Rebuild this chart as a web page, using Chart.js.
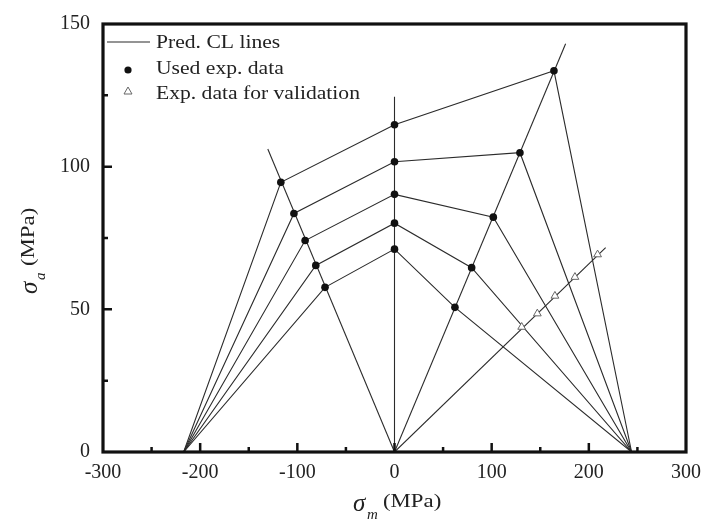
<!DOCTYPE html>
<html>
<head>
<meta charset="utf-8">
<script src="https://cdn.jsdelivr.net/npm/chart.js"></script>
<style>
  html, body { margin: 0; padding: 0; background: #fff; }
  #wrap { width: 707px; height: 523px; }
</style>
</head>
<body>
<div id="wrap"><canvas id="chart"></canvas></div>
<script>
// Constant-life (CL) diagram: sigma_m vs sigma_a, MPa

// foci of the fans on the sigma_m axis
const leftFocus = -217;
const rightFocus = 244;

// used experimental points, one per CL level (top to bottom)
const leftX = [-117, -103.5, -92, -81, -71.5];
const leftY = [94.5, 83.6, 74.1, 65.4, 57.7];
const midX = [0, 0, 0, 0, 0];
const midY = [114.7, 101.7, 90.3, 80.2, 71.1];
const rightX = [164.1, 129.1, 101.7, 79.4, 62.2];
const rightY = [133.6, 104.9, 82.3, 64.6, 50.7];

// validation points
const validX = [130.9, 147, 165.1, 185.7, 209];
const validY = [43.8, 48.5, 54.7, 61.3, 69.2];

// radial lines from the origin (end points)
const rayX = [-130.4, 0, 176.1, 217.3];
const rayY = [106.2, 124.5, 143.1, 71.6];

// axis ticks
const xTicks = [-300, -200, -100, 0, 100, 200, 300];
const yTicks = [0, 50, 100, 150];

const serif = "'Liberation Serif', 'DejaVu Serif', serif";
const lineColor = "#2b2b2b";
const textColor = "#222";
const stretch = 1.2; // the serif face is set a bit wide

function lineSet(points) {
  return {
    type: "scatter",
    data: points,
    showLine: true,
    pointRadius: 0,
    borderColor: lineColor,
    borderWidth: 1.1,
    fill: false,
    order: 2,
  };
}

const datasets = [];

// used exp. data
const usedPts = [];
for (let i = 0; i < leftX.length; i++) {
  usedPts.push({ x: leftX[i], y: leftY[i] });
  usedPts.push({ x: midX[i], y: midY[i] });
  usedPts.push({ x: rightX[i], y: rightY[i] });
}
datasets.push({
  type: "scatter",
  data: usedPts,
  pointStyle: "circle",
  pointRadius: 3.8,
  backgroundColor: "#111",
  borderColor: "#111",
  borderWidth: 0,
  order: 0,
});

// validation data
datasets.push({
  type: "scatter",
  data: validX.map((x, i) => ({ x: x, y: validY[i] })),
  pointStyle: "triangle",
  pointRadius: 4.5,
  backgroundColor: "#fff",
  borderColor: "#666",
  borderWidth: 1,
  order: 0,
});

// rays from the origin
rayX.forEach((x, i) => {
  datasets.push(lineSet([{ x: 0, y: 0 }, { x: x, y: rayY[i] }]));
});

// one polyline per CL level: left focus -> left -> mid -> right -> right focus
for (let i = 0; i < leftX.length; i++) {
  datasets.push(lineSet([
    { x: leftFocus, y: 0 },
    { x: leftX[i], y: leftY[i] },
    { x: midX[i], y: midY[i] },
    { x: rightX[i], y: rightY[i] },
    { x: rightFocus, y: 0 },
  ]));
}

function wideText(ctx, text, x, y) {
  ctx.save();
  ctx.translate(x, y);
  ctx.scale(stretch, 1);
  ctx.fillText(text, 0, 0);
  ctx.restore();
}

// frame, inward ticks, axis titles and legend
const decorations = {
  id: "decorations",
  afterDatasetsDraw(chart) {
    const { ctx, chartArea: a, scales } = chart;
    const sx = scales.x, sy = scales.y;
    ctx.save();

    // ticks
    ctx.strokeStyle = "#111";
    ctx.lineWidth = 2.5;
    ctx.beginPath();
    for (let v = -250; v <= 250; v += 50) {
      const len = v % 100 === 0 ? 9 : 5;
      const px = sx.getPixelForValue(v);
      ctx.moveTo(px, a.bottom);
      ctx.lineTo(px, a.bottom - len);
    }
    for (let v = 25; v <= 125; v += 25) {
      const len = v % 50 === 0 ? 9 : 5;
      const py = sy.getPixelForValue(v);
      ctx.moveTo(a.left, py);
      ctx.lineTo(a.left + len, py);
    }
    ctx.stroke();

    // frame
    ctx.lineWidth = 3.2;
    ctx.strokeRect(a.left, a.top, a.right - a.left, a.bottom - a.top);

    // x title
    ctx.fillStyle = textColor;
    ctx.textBaseline = "alphabetic";
    ctx.textAlign = "left";
    ctx.font = "italic 25px " + serif;
    ctx.fillText("σ", 353, 511);
    ctx.font = "italic 15px " + serif;
    ctx.fillText("m", 367, 519);
    ctx.font = "19px " + serif;
    wideText(ctx, "(MPa)", 383, 507);

    // y title
    ctx.save();
    ctx.translate(37, 294);
    ctx.rotate(-Math.PI / 2);
    ctx.font = "italic 25px " + serif;
    ctx.fillText("σ", 0, 0);
    ctx.font = "italic 15px " + serif;
    ctx.fillText("a", 14, 8);
    ctx.font = "19px " + serif;
    wideText(ctx, "(MPa)", 28, -3);
    ctx.restore();

    // legend
    ctx.font = "18px " + serif;
    ctx.strokeStyle = lineColor;
    ctx.lineWidth = 1.1;
    ctx.beginPath();
    ctx.moveTo(107, 42);
    ctx.lineTo(150, 42);
    ctx.stroke();
    wideText(ctx, "Pred. CL lines", 156, 48);

    ctx.fillStyle = "#111";
    ctx.beginPath();
    ctx.arc(128, 70, 3.6, 0, Math.PI * 2);
    ctx.fill();
    ctx.fillStyle = textColor;
    wideText(ctx, "Used exp. data", 156, 74);

    ctx.strokeStyle = "#666";
    ctx.lineWidth = 1;
    ctx.beginPath();
    ctx.moveTo(128, 87);
    ctx.lineTo(132, 94);
    ctx.lineTo(124, 94);
    ctx.closePath();
    ctx.stroke();
    wideText(ctx, "Exp. data for validation", 156, 99);

    ctx.restore();
  },
};

new Chart(document.getElementById("chart"), {
  type: "scatter",
  data: { datasets: datasets },
  options: {
    responsive: true,
    maintainAspectRatio: false,
    animation: false,
    events: [],
    layout: { padding: { left: 0, right: 21, top: 24, bottom: 0 } },
    scales: {
      x: {
        type: "linear",
        min: -300,
        max: 300,
        afterBuildTicks: (s) => { s.ticks = xTicks.map((v) => ({ value: v })); },
        afterFit: (s) => { s.height = 71; },
        grid: { display: false },
        border: { display: false },
        ticks: { color: textColor, padding: 1, font: { family: serif, size: 20 } },
      },
      y: {
        type: "linear",
        min: 0,
        max: 150,
        afterBuildTicks: (s) => { s.ticks = yTicks.map((v) => ({ value: v })); },
        afterFit: (s) => { s.width = 103; },
        grid: { display: false },
        border: { display: false },
        ticks: { color: textColor, padding: 5, font: { family: serif, size: 20 } },
      },
    },
    plugins: {
      legend: { display: false },
      tooltip: { enabled: false },
    },
  },
  plugins: [decorations],
});
</script>
</body>
</html>
